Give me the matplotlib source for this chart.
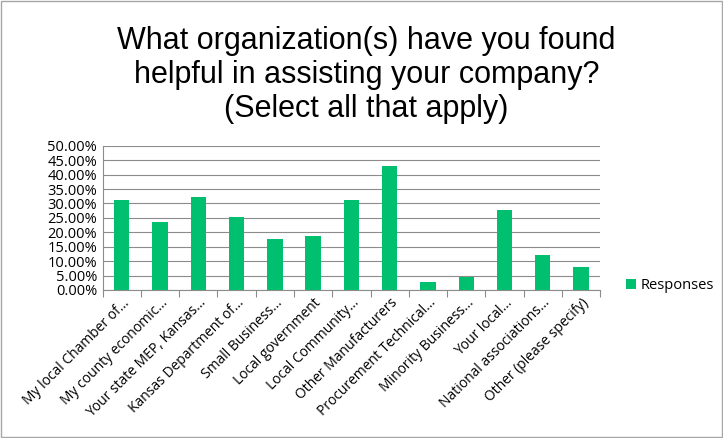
import matplotlib
matplotlib.use("Agg")
import matplotlib.pyplot as plt
from matplotlib.patches import Rectangle
from matplotlib.ticker import FuncFormatter, MultipleLocator

# Survey results: share of respondents naming each organization
categories = [
    "My local Chamber of...",
    "My county economic...",
    "Your state MEP, Kansas...",
    "Kansas Department of...",
    "Small Business...",
    "Local government",
    "Local Community...",
    "Other Manufacturers",
    "Procurement Technical...",
    "Minority Business...",
    "Your local...",
    "National associations...",
    "Other (please specify)",
]
responses = [31.2, 23.7, 32.1, 25.3, 17.8, 18.6, 31.3, 43.1, 2.6, 4.4, 27.9, 12.0, 7.8]

title = "What organization(s) have you found\nhelpful in assisting your company?\n(Select all that apply)"
bar_color = "#00BF6F"
grid_color = "#8c8c8c"
small_font = "Open Sans"

fig = plt.figure(figsize=(7.23, 4.38), dpi=100)
ax = fig.add_axes([0.142, 0.338, 0.688, 0.329])

x = range(len(categories))
ax.bar(x, responses, width=0.4, color=bar_color, label="Responses", zorder=3)

ax.set_ylim(0, 50)
ax.set_xlim(-0.5, len(categories) - 0.5)
ax.yaxis.set_major_locator(MultipleLocator(5))
ax.yaxis.set_major_formatter(FuncFormatter(lambda v, _: f"{v:.2f}%"))
ax.grid(axis="y", color=grid_color, linewidth=0.8, zorder=0)

for side in ("top", "right"):
    ax.spines[side].set_visible(False)
ax.spines["left"].set_color(grid_color)
ax.spines["bottom"].set_color(grid_color)

# category ticks sit between bars, labels centred under each bar
ax.set_xticks([i - 0.5 for i in range(len(categories) + 1)])
ax.set_xticklabels([])
ax.set_xticks(list(x), minor=True)
ax.set_xticklabels(categories, minor=True, rotation=45, ha="right",
                   rotation_mode="anchor", fontsize=10, family=small_font)
ax.tick_params(axis="x", which="major", length=5, color=grid_color)
ax.tick_params(axis="x", which="minor", length=0, pad=4)
ax.tick_params(axis="y", length=0, pad=4, labelsize=10.5)
for lbl in ax.get_yticklabels():
    lbl.set_family(small_font)

fig.text(0.507, 0.94, title, ha="center", va="top", fontsize=22,
         family="Liberation Sans", linespacing=1.17)

fig.legend(loc="center left", bbox_to_anchor=(0.848, 0.348), frameon=False,
           prop={"family": small_font, "size": 10.5}, handlelength=0.7,
           handleheight=0.7, handletextpad=0.3)

# thin frame around the whole chart
fig.patches.append(Rectangle((0.001, 0.002), 0.997, 0.996, transform=fig.transFigure,
                             fill=False, edgecolor="#a6a6a6", linewidth=1))

fig.savefig("out.png", dpi=100)
